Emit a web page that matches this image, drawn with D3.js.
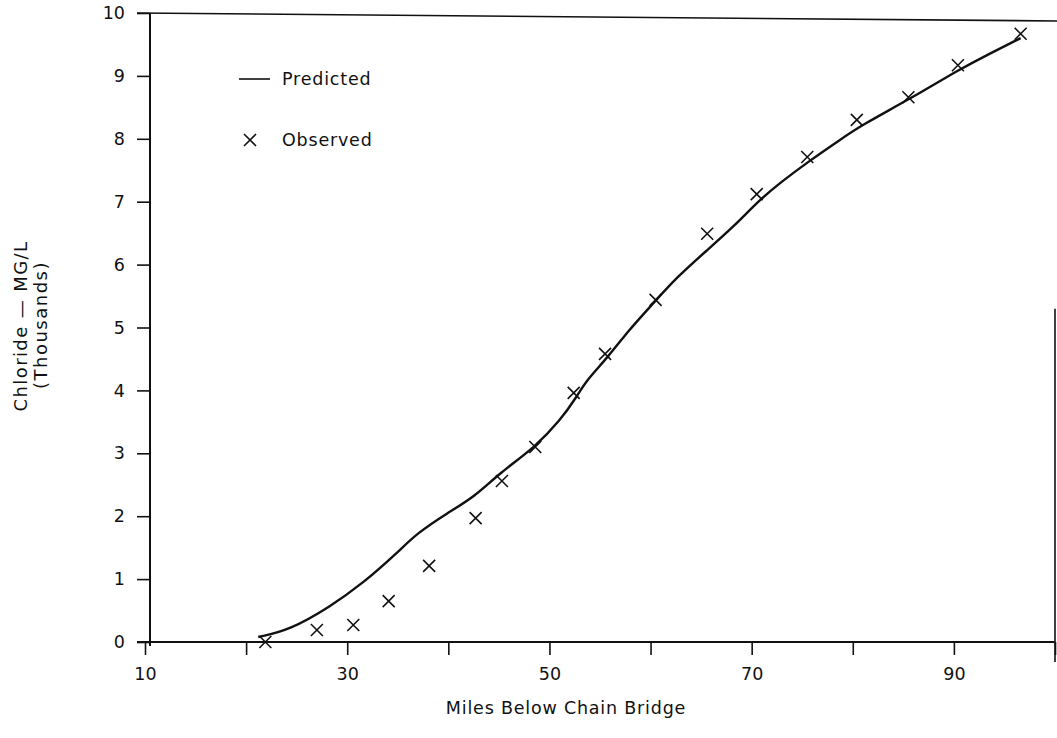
<!DOCTYPE html>
<html>
<head>
<meta charset="utf-8">
<script src="https://cdn.jsdelivr.net/npm/d3@7"></script>
<style>
  html, body { margin: 0; padding: 0; background: #fff; }
  svg { display: block; }
  text { font-family: "DejaVu Sans", sans-serif; fill: #111; }
</style>
</head>
<body>
<svg id="chart" width="1057" height="738"></svg>
<script>
// Chloride concentration downstream of Chain Bridge (thousands of mg/L)
const predictedMiles = [21.2, 24.3, 28.3, 31.6, 34.9, 36.9, 39.9, 42.6, 45.1, 48.6, 51.1, 52.7, 53.7, 55.8, 57.7, 60.3, 62.6, 65.6, 68.2, 70.8, 72.8, 75.8, 78.7, 80.9, 85.5, 90.4, 93.6, 96.6];
const predictedChloride = [0.08, 0.19, 0.56, 0.94, 1.41, 1.73, 2.05, 2.31, 2.69, 3.10, 3.53, 3.90, 4.17, 4.53, 4.93, 5.39, 5.80, 6.23, 6.60, 7.03, 7.30, 7.66, 7.98, 8.22, 8.62, 9.09, 9.36, 9.60];

const observedMiles = [21.9, 27.0, 30.6, 34.1, 38.1, 42.7, 45.3, 48.6, 52.4, 55.5, 60.5, 65.6, 70.5, 75.5, 80.4, 85.5, 90.4, 96.6];
const observedChloride = [0.0, 0.19, 0.27, 0.65, 1.21, 1.97, 2.56, 3.10, 3.96, 4.58, 5.44, 6.49, 7.12, 7.71, 8.30, 8.66, 9.17, 9.67];

const xTicks = [10, 20, 30, 40, 50, 60, 70, 80, 90, 100];
const xTickLabels = ["10", "", "30", "", "50", "", "70", "", "90", ""];
const yTicks = [0, 1, 2, 3, 4, 5, 6, 7, 8, 9, 10];

const legendLabels = ["Predicted", "Observed"];
const xTitle = "Miles Below Chain Bridge";
const yTitle = ["Chloride\u00a0\u2014\u00a0MG/L", "(Thousands)"];

const svg = d3.select("#chart");
const ink = "#111";
const fs = 17.5;

const x = d3.scaleLinear().domain([10, 100]).range([145, 1055]);
const y = d3.scaleLinear().domain([0, 10]).range([642, 13]);

// Plot frame: top edge and partial right edge
svg.append("line")
  .attr("x1", 137).attr("x2", 1057)
  .attr("y1", y(10)).attr("y2", y(10) + 8)
  .attr("stroke", ink).attr("stroke-width", 1.6);
svg.append("line")
  .attr("x1", x(100)).attr("x2", x(100))
  .attr("y1", y(5.3)).attr("y2", 662)
  .attr("stroke", ink).attr("stroke-width", 1.6);

// Y axis
const yAxis = d3.axisLeft(y).tickValues(yTicks).tickSize(13).tickPadding(12).tickFormat(d3.format("d"));
const gy = svg.append("g").attr("transform", "translate(150,0)").call(yAxis);
gy.attr("font-size", null).attr("font-family", null);
gy.select(".domain").attr("stroke", ink).attr("stroke-width", 2).attr("d", `M0,${y(0) + 4}V${y(10)}`);
gy.selectAll(".tick line").attr("stroke", ink).attr("stroke-width", 1.6);
gy.selectAll(".tick text").attr("font-size", fs).attr("fill", ink).attr("x", -25);

// X axis
const xAxis = d3.axisBottom(x).tickValues(xTicks).tickSize(13).tickPadding(13)
  .tickFormat((d, i) => xTickLabels[i]);
const gx = svg.append("g").attr("transform", `translate(0,${y(0)})`).call(xAxis);
gx.attr("font-size", null).attr("font-family", null);
gx.select(".domain").attr("stroke", ink).attr("stroke-width", 2).attr("d", `M137,0H${x(100)}`);
gx.selectAll(".tick line").attr("stroke", ink).attr("stroke-width", 1.6);
gx.selectAll(".tick text").attr("font-size", fs).attr("fill", ink);

// Predicted curve
const predicted = predictedMiles.map((m, i) => [m, predictedChloride[i]]);
svg.append("path")
  .datum(predicted)
  .attr("fill", "none")
  .attr("stroke", ink)
  .attr("stroke-width", 2.4)
  .attr("stroke-linejoin", "round")
  .attr("d", d3.line().x(d => x(d[0])).y(d => y(d[1])).curve(d3.curveBasis));

// Observed points as x-marks
const s = 6;
const observed = observedMiles.map((m, i) => [m, observedChloride[i]]);
svg.append("g").selectAll("path.obs")
  .data(observed)
  .join("path")
  .attr("class", "obs")
  .attr("fill", "none")
  .attr("stroke", ink)
  .attr("stroke-width", 1.6)
  .attr("d", d => {
    const cx = x(d[0]), cy = y(d[1]);
    return `M${cx - s},${cy - s}L${cx + s},${cy + s}M${cx - s},${cy + s}L${cx + s},${cy - s}`;
  });

// Legend
const lg = svg.append("g");
lg.append("line").attr("x1", 239).attr("x2", 270).attr("y1", 79).attr("y2", 79)
  .attr("stroke", ink).attr("stroke-width", 1.6);
lg.append("text").attr("x", 282).attr("y", 85).attr("font-size", fs)
  .attr("letter-spacing", 0.8).text(legendLabels[0]);
lg.append("path")
  .attr("d", `M${250 - s},${140 - s}L${250 + s},${140 + s}M${250 - s},${140 + s}L${250 + s},${140 - s}`)
  .attr("stroke", ink).attr("stroke-width", 1.6).attr("fill", "none");
lg.append("text").attr("x", 282).attr("y", 146).attr("font-size", fs)
  .attr("letter-spacing", 0.8).text(legendLabels[1]);

// Axis titles
svg.append("text").attr("x", 566).attr("y", 714).attr("text-anchor", "middle")
  .attr("font-size", fs).attr("letter-spacing", 0.8).text(xTitle);
svg.append("text").attr("transform", "translate(27,326) rotate(-90)")
  .attr("text-anchor", "middle").attr("font-size", 18).attr("letter-spacing", 1.4).text(yTitle[0]);
svg.append("text").attr("transform", "translate(47,325) rotate(-90)")
  .attr("text-anchor", "middle").attr("font-size", 18).attr("letter-spacing", 1.5).text(yTitle[1]);
</script>
</body>
</html>
